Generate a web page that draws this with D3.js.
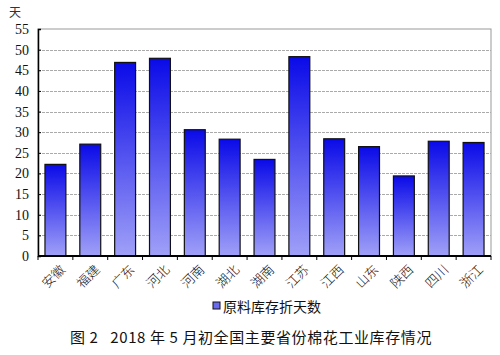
<!DOCTYPE html>
<html><head><meta charset="utf-8">
<script src="https://cdn.jsdelivr.net/npm/d3@7"></script>
<style>body{margin:0;background:#fff;}svg{display:block;}</style>
</head><body>
<script>
const categories = ["安徽","福建","广东","河北","河南","湖北","湖南","江苏","江西","山东","陕西","四川","浙江"];
const values = [22.2, 27.1, 46.9, 47.9, 30.6, 28.3, 23.4, 48.3, 28.4, 26.5, 19.4, 27.8, 27.5];
const yTicks = [0,5,10,15,20,25,30,35,40,45,50,55];
const seriesName = "原料库存折天数";
const unitLabel = "天";
const titleText = "图 2   2018 年 5 月初全国主要省份棉花工业库存情况";

const W = 500, H = 355;
const svg = d3.select("body").append("svg").attr("width", W).attr("height", H);
const m = {l: 38, r: 9, t: 29, b: 99};
const x = d3.scaleBand().domain(categories).range([m.l, W - m.r]).paddingInner(0.4).paddingOuter(0.2);
const y = d3.scaleLinear().domain([0, 55]).range([H - m.b, m.t]);

const defs = svg.append("defs");
const grad = defs.append("linearGradient").attr("id","g").attr("x1",0).attr("y1",0).attr("x2",0).attr("y2",1);
grad.append("stop").attr("offset","0%").attr("stop-color","#0a0ae8");
grad.append("stop").attr("offset","100%").attr("stop-color","#a0a0f8");

// plot border
svg.append("rect").attr("x", m.l).attr("y", m.t).attr("width", W - m.r - m.l).attr("height", H - m.b - m.t)
  .attr("fill","none").attr("stroke","#999").attr("stroke-width",1);

// gridlines
svg.append("g").selectAll("line").data(yTicks.filter(d => d > 0 && d < 55)).join("line")
  .attr("x1", m.l).attr("x2", W - m.r).attr("y1", d => Math.round(y(d)) + 0.5).attr("y2", d => Math.round(y(d)) + 0.5)
  .attr("stroke","#aaa").attr("stroke-dasharray","3,1");

// bars
svg.append("g").selectAll("rect").data(values).join("rect")
  .attr("x", (d,i) => x(categories[i])).attr("width", x.bandwidth())
  .attr("y", d => y(d)).attr("height", d => y(0) - y(d))
  .attr("fill","url(#g)").attr("stroke","#111").attr("stroke-width",1.2);

// y axis
const yAxis = svg.append("g").attr("transform", `translate(${m.l},0)`)
  .call(d3.axisLeft(y).tickValues(yTicks).tickSize(-3).tickPadding(9));
yAxis.select(".domain").attr("stroke","#000").attr("stroke-width",1.5);
yAxis.selectAll(".tick line").attr("stroke","#000");
yAxis.selectAll("text").attr("font-family","Liberation Serif, serif").attr("font-size",14).attr("fill","#111");

// x axis
const step = x.step();
const boundaries = d3.range(categories.length + 1).map(i => m.l + i * step);
const xg = svg.append("g");
xg.append("line").attr("x1", m.l).attr("x2", W - m.r).attr("y1", y(0)).attr("y2", y(0)).attr("stroke","#000").attr("stroke-width",2);
xg.selectAll("line.tk").data(boundaries).join("line").attr("class","tk")
  .attr("x1", d => d).attr("x2", d => d).attr("y1", y(0)).attr("y2", y(0) + 4).attr("stroke","#000");
xg.selectAll("text").data(categories).join("text")
  .attr("transform", d => `translate(${x(d) + x.bandwidth()/2 + 4},${y(0) + 8}) rotate(-45)`)
  .attr("text-anchor","end").attr("dy","0.7em")
  .attr("font-family","Noto Sans CJK SC").attr("font-size",13).attr("font-weight",300).attr("fill","#111")
  .text(d => d);

// unit label
svg.append("text").attr("x", 15).attr("y", 17).attr("text-anchor","middle")
  .attr("font-family","Noto Sans CJK SC").attr("font-size",12).attr("fill","#333").text(unitLabel);

// legend
const lg = svg.append("g").attr("transform","translate(213,307)");
lg.append("rect").attr("x",0).attr("y",-5).attr("width",7).attr("height",7).attr("fill","#6a6af0").attr("stroke","#111");
lg.append("text").attr("x",10).attr("y",0).attr("dy","0.35em").attr("font-family","Noto Sans CJK SC").attr("font-size",14).attr("fill","#111").text(seriesName);

// title
svg.append("text").attr("x", 251).attr("y", 343).attr("text-anchor","middle")
  .attr("font-family","Noto Sans CJK SC").attr("font-size",15).attr("font-weight",400).attr("fill","#111")
  .attr("letter-spacing", 0.6)
  .attr("xml:space","preserve").style("white-space","pre").text(titleText);
</script>
</body></html>
